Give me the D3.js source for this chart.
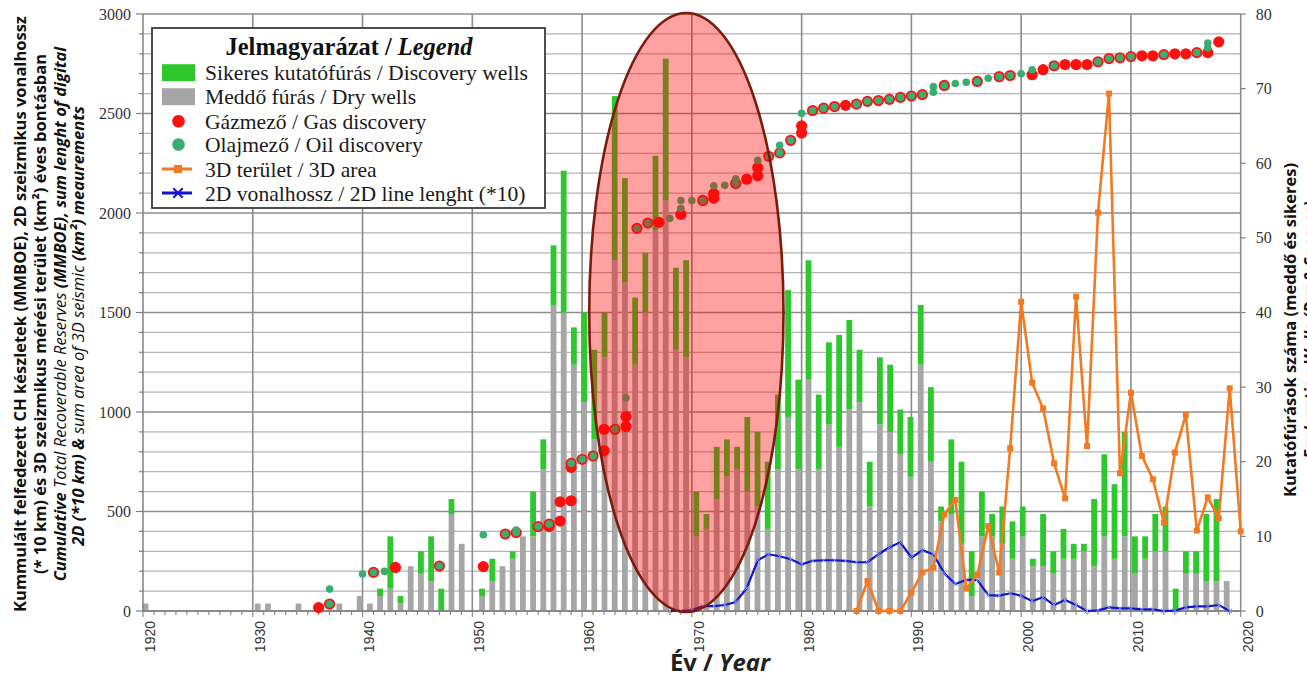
<!DOCTYPE html>
<html>
<head>
<meta charset="utf-8">
<script src="https://cdn.jsdelivr.net/npm/d3@7/dist/d3.min.js"></script>
<style>
  body { margin: 0; background: #fff; }
  svg { display: block; }
</style>
</head>
<body>
<svg id="chart" width="1307" height="677"></svg>
<script>
// exploration wells per bar slot (right axis), in the order they stand on the chart
let dryWells = [1,0,0,0,0,0,0,0,0,0,0,
  1,1,0,0,1,0,0,0,1,0,
  2,1,2,3,1,6,5,4,0,13,
  9,0,2,4,6,7,10,10,19,41,
  40,33,28,23,34,47,44,33,40,51,
  55,35,34,10,11,15,18,19,16,14,
  11,19,26,19,31,19,25,22,27,28,
  14,25,24,21,18,33,20,12,13,9,
  2,10,10,9,7,10,6,6,5,7,
  7,8,6,10,7,10,5,7,8,8,
  0,5,5,4,4,4];
let successWells = [0,0,0,0,0,0,0,0,0,0,0,
  0,0,0,0,0,0,0,0,0,0,
  0,0,1,7,1,0,3,6,3,2,
  0,0,1,3,0,1,0,6,4,8,
  19,5,12,12,6,22,14,9,8,10,
  19,11,13,6,2,7,5,3,10,10,
  9,10,17,12,16,10,11,15,12,7,
  6,9,9,6,8,8,10,2,10,11,
  6,6,3,5,5,4,1,7,3,4,
  2,1,9,11,10,14,5,3,5,6,
  3,3,3,9,11,0];

// cumulative recoverable reserves at each discovery [year, MMBOE]
let gasFinds = [[1936,17],[1937,35],[1941,194],[1943,219],[1947,226],[1951,223],[1953,387],[1954,394],
  [1956,424],[1957,424],[1957,437],[1958,452],[1958,549],[1959,554],[1959,722],[1959,742],[1960,762],
  [1961,779],[1962,805],[1962,913],[1963,913],[1964,927],[1964,977],[1965,1923],[1966,1949],[1967,1953],
  [1969,1993],[1971,2063],[1972,2075],[1972,2097],[1974,2148],[1975,2170],[1976,2187],[1976,2227],
  [1977,2285],[1978,2302],[1979,2365],[1980,2402],[1980,2438],[1981,2515],[1982,2527],[1983,2535],
  [1984,2541],[1985,2547],[1986,2561],[1987,2565],[1988,2571],[1989,2581],[1990,2588],[1991,2595],
  [1993,2641],[1996,2661],[1998,2685],[1999,2691],[2001,2695],[2002,2720],[2003,2740],[2004,2746],
  [2005,2746],[2006,2746],[2007,2760],[2008,2776],[2009,2780],[2010,2786],[2011,2790],[2012,2790],
  [2013,2796],[2014,2800],[2015,2800],[2016,2806],[2017,2806],[2018,2860]];
let oilFinds = [[1937,35],[1937,110],[1940,186],[1941,194],[1942,199],[1947,226],[1951,383],[1953,387],
  [1954,394],[1954,407],[1956,424],[1957,437],[1959,742],[1960,762],[1961,779],[1963,913],[1964,1070],
  [1965,1923],[1966,1949],[1968,1973],[1969,2023],[1969,2063],[1970,2063],[1971,2063],[1972,2137],
  [1973,2139],[1974,2148],[1974,2172],[1976,2265],[1977,2285],[1978,2302],[1978,2340],[1979,2365],
  [1980,2501],[1981,2515],[1982,2527],[1983,2535],[1985,2547],[1986,2561],[1987,2565],[1988,2571],
  [1989,2581],[1990,2588],[1991,2595],[1992,2607],[1992,2635],[1993,2641],[1994,2651],[1995,2657],
  [1996,2661],[1997,2677],[1998,2685],[1999,2691],[2000,2700],[2001,2720],[2003,2740],[2007,2760],
  [2008,2776],[2009,2780],[2010,2786],[2013,2796],[2016,2806],[2017,2830],[2017,2854]];

// seismic surveys (left axis)
let area3D = [[1985,0],[1986,151],[1987,0],[1988,0],[1989,0],[1990,92],[1991,194],[1992,218],[1993,486],
  [1994,558],[1995,114],[1996,181],[1997,427],[1998,193],[1999,818],[2000,1554],[2001,1147],[2002,1018],
  [2003,742],[2004,566],[2005,1580],[2006,829],[2007,2002],[2008,2600],[2009,692],[2010,1097],[2011,779],
  [2012,662],[2013,444],[2014,796],[2015,985],[2016,404],[2017,571],[2018,466],[2019,1119],[2020,400]];
let line2D = [[1968,0],[1969,0],[1970,5],[1971,25],[1972,25],[1973,30],[1974,45],[1975,115],[1976,255],
  [1977,285],[1978,275],[1979,260],[1980,235],[1981,252],[1982,255],[1983,255],[1984,252],[1985,245],
  [1986,245],[1987,285],[1988,320],[1989,345],[1990,268],[1991,305],[1992,286],[1993,189],[1994,136],
  [1995,156],[1996,156],[1997,80],[1998,77],[1999,89],[2000,77],[2001,50],[2002,69],[2003,30],[2004,55],
  [2005,30],[2006,0],[2007,3],[2008,18],[2009,13],[2010,13],[2011,8],[2012,8],[2013,0],[2014,2],
  [2015,18],[2016,23],[2017,23],[2018,30],[2019,0]];

let yearTicks = d3.range(1920, 2021, 10);
let leftTicks = d3.range(0, 3001, 500);
let rightTicks = d3.range(0, 81, 10);

let svg = d3.select("#chart"),
    width = +svg.attr("width"),
    height = +svg.attr("height"),
    margin = { top: 14, right: 66.3, bottom: 66, left: 143 };

let x0 = margin.left, x1 = width - margin.right;
let y0 = height - margin.bottom, y1 = margin.top;

let xYear = d3.scaleLinear().domain([1920, 2020]).range([x0, x1]);
let xSlot = d3.scaleBand().domain(d3.range(dryWells.length)).range([x0 - 2.6, x0 - 2.6 + dryWells.length * 10.2]);
let yLeft = d3.scaleLinear().domain([0, 3000]).range([y0, y1]);
let yRight = d3.scaleLinear().domain([0, 80]).range([y0, y1]);

const serif = "'Liberation Serif', 'Times New Roman', serif";
const sans = "'Liberation Sans', Arial, sans-serif";
const titleFont = "'Open Sans', 'DejaVu Sans', sans-serif";

// grid
let grid = svg.append("g");
grid.selectAll(".hg").data(d3.range(0, 3001, 100)).enter().append("line")
  .attr("x1", x0).attr("x2", x1)
  .attr("y1", d => yLeft(d)).attr("y2", d => yLeft(d))
  .attr("stroke", d => d % 500 === 0 ? "#8c8c8c" : "#b4b4b4")
  .attr("stroke-width", d => d % 500 === 0 ? 1.6 : 1.2);
grid.selectAll(".vg").data(yearTicks.slice(1)).enter().append("line")
  .attr("x1", d => xYear(d)).attr("x2", d => xYear(d))
  .attr("y1", y1).attr("y2", y0)
  .attr("stroke", "#8c8c8c").attr("stroke-width", 1.6);

// stacked well bars
let barW = 5.8;
let bars = svg.append("g");
dryWells.forEach((dry, i) => {
  let cx = xSlot(i) + xSlot.bandwidth() / 2;
  let ok = successWells[i];
  if (dry > 0) {
    bars.append("rect").attr("x", cx - barW / 2).attr("width", barW)
      .attr("y", yRight(dry)).attr("height", yRight(0) - yRight(dry)).attr("fill", "#a6a6a6");
  }
  if (ok > 0) {
    bars.append("rect").attr("x", cx - barW / 2).attr("width", barW)
      .attr("y", yRight(dry + ok)).attr("height", yRight(dry) - yRight(dry + ok)).attr("fill", "#2ec82e");
  }
});

// axes
let axes = svg.append("g").attr("stroke", "#808080");
axes.append("line").attr("x1", x0).attr("x2", x0).attr("y1", y1).attr("y2", y0).attr("stroke-width", 1.5);
axes.append("line").attr("x1", x0).attr("x2", x1).attr("y1", y0).attr("y2", y0).attr("stroke-width", 1.5);
axes.selectAll(".lt").data(d3.range(0, 3001, 100)).enter().append("line")
  .attr("x1", d => d % 500 === 0 ? x0 - 7 : x0 - 4).attr("x2", x0)
  .attr("y1", d => yLeft(d)).attr("y2", d => yLeft(d)).attr("stroke-width", 1.2);
axes.selectAll(".rt").data(rightTicks).enter().append("line")
  .attr("x1", x1).attr("x2", x1 + 5)
  .attr("y1", d => yRight(d)).attr("y2", d => yRight(d)).attr("stroke-width", 1.2);
axes.selectAll(".xt").data(d3.range(1920, 2021)).enter().append("line")
  .attr("x1", d => xYear(d)).attr("x2", d => xYear(d))
  .attr("y1", y0).attr("y2", d => d % 10 === 0 ? y0 + 6 : y0 + 4).attr("stroke-width", 1.1);

svg.selectAll(".ll").data(leftTicks).enter().append("text")
  .attr("x", x0 - 12).attr("y", d => yLeft(d)).attr("dy", "0.35em")
  .attr("text-anchor", "end").attr("font-family", serif).attr("font-size", 16).attr("fill", "#333")
  .text(d => d);
svg.selectAll(".rl").data(rightTicks).enter().append("text")
  .attr("x", x1 + 15).attr("y", d => yRight(d)).attr("dy", "0.35em")
  .attr("font-family", serif).attr("font-size", 16).attr("fill", "#333")
  .text(d => d);
svg.selectAll(".xl").data(yearTicks).enter().append("text")
  .attr("transform", d => `translate(${xYear(d) + 7},${y0 + 10}) rotate(-90)`)
  .attr("dy", "0.35em").attr("text-anchor", "end")
  .attr("font-family", sans).attr("font-size", 14).attr("fill", "#333")
  .text(d => d);

// seismic lines
let line = d3.line().x(d => xYear(d[0])).y(d => yLeft(d[1]));
svg.append("path").datum(line2D).attr("d", line)
  .attr("fill", "none").attr("stroke", "#1414cc").attr("stroke-width", 2.2);
svg.selectAll(".m2").data(line2D).enter().append("path")
  .attr("d", d3.symbol(d3.symbolTimes, 18)())
  .attr("transform", d => `translate(${xYear(d[0])},${yLeft(d[1])})`)
  .attr("fill", "none").attr("stroke", "#7f9de6").attr("stroke-width", 1);
svg.append("path").datum(area3D).attr("d", line)
  .attr("fill", "none").attr("stroke", "#f47a22").attr("stroke-width", 2.6);
svg.selectAll(".m3").data(area3D).enter().append("rect")
  .attr("x", d => xYear(d[0]) - 3).attr("y", d => yLeft(d[1]) - 3)
  .attr("width", 6).attr("height", 6).attr("fill", "#f47a22");

// discoveries: gas under, oil on top
svg.selectAll(".gas").data(gasFinds).enter().append("circle")
  .attr("cx", d => xYear(d[0])).attr("cy", d => yLeft(d[1])).attr("r", 5.6)
  .attr("fill", "#ff1010");
svg.selectAll(".oil").data(oilFinds).enter().append("circle")
  .attr("cx", d => xYear(d[0])).attr("cy", d => yLeft(d[1])).attr("r", 3.8)
  .attr("fill", "#3aae6e");

// highlighted period
svg.append("ellipse")
  .attr("cx", xYear(1969.5)).attr("cy", yLeft(1500))
  .attr("rx", xYear(1978.35) - xYear(1969.5)).attr("ry", (yLeft(0) - yLeft(3000)) / 2 + 1)
  .attr("fill", "rgba(255,0,0,0.37)").attr("stroke", "#7a1c0c").attr("stroke-width", 2.6);

function fitWidth(sel, target) {
  let w = sel.node().getComputedTextLength();
  let fs = parseFloat(sel.attr("font-size")) * target / w;
  sel.attr("font-size", fs);
  return fs;
}

// axis titles
let leftTitle = [
  [["Kummulált felfedezett CH készletek (MMBOE), 2D szeizmikus vonalhossz", "bold", "normal"]],
  [["(* 10 km) és 3D szeizmikus mérési terület (km²) éves bontásban", "bold", "normal"]],
  [["Cumulative ", "bold", "italic"], ["Total Recoverable Reserves ", "normal", "italic"], ["(MMBOE), sum lenght of digital", "bold", "italic"]],
  [["2D (*10 km) & ", "bold", "italic"], ["sum area of 3D seismic ", "normal", "italic"], ["(km²) meaurements", "bold", "italic"]]
];
let leftX = [20, 40, 60, 78];
let titleSize = 14;
leftTitle.forEach((parts, i) => {
  let t = svg.append("text")
    .attr("transform", `translate(${leftX[i]},${i === 3 ? 326 : 314}) rotate(-90)`)
    .attr("text-anchor", "middle").attr("dy", "0.35em")
    .attr("font-family", titleFont).attr("font-size", titleSize).attr("fill", "#111");
  parts.forEach(p => t.append("tspan").attr("font-weight", p[1]).attr("font-style", p[2]).text(p[0]));
  if (i === 0) titleSize = fitWidth(t, 596);
});

svg.append("text")
  .attr("transform", `translate(1290,330) rotate(-90)`)
  .attr("text-anchor", "middle").attr("dy", "0.35em")
  .attr("font-family", titleFont).attr("font-weight", "bold").attr("font-size", titleSize).attr("fill", "#111")
  .text("Kutatófúrások száma (meddő és sikeres)");
svg.append("text")
  .attr("transform", `translate(1310,330) rotate(-90)`)
  .attr("text-anchor", "middle").attr("dy", "0.35em")
  .attr("font-family", titleFont).attr("font-weight", "bold").attr("font-style", "italic")
  .attr("font-size", titleSize).attr("fill", "#111")
  .text("Exploration Wells (Dry & Success)");

let xt = svg.append("text").attr("x", 720).attr("y", 671).attr("text-anchor", "middle")
  .attr("font-family", titleFont).attr("font-weight", "bold").attr("font-size", 18).attr("fill", "#222");
xt.append("tspan").text("Év / ");
xt.append("tspan").attr("font-style", "italic").text("Year");
fitWidth(xt, 100);

// legend
let legend = svg.append("g");
legend.append("rect").attr("x", 152).attr("y", 28).attr("width", 393).attr("height", 180)
  .attr("fill", "#fff").attr("stroke", "#3a3a3a").attr("stroke-width", 1.8);
let lt = legend.append("text").attr("x", 349).attr("y", 46).attr("dy", "0.35em").attr("text-anchor", "middle")
  .attr("font-family", serif).attr("font-weight", "bold").attr("font-size", 20).attr("fill", "#111");
lt.append("tspan").text("Jelmagyarázat / ");
lt.append("tspan").attr("font-style", "italic").text("Legend");
fitWidth(lt, 247);

let legendItems = [
  { label: "Sikeres kutatófúrás / Discovery wells", kind: "rect", color: "#2ec82e" },
  { label: "Meddő fúrás / Dry wells", kind: "rect", color: "#a6a6a6" },
  { label: "Gázmező / Gas discovery", kind: "dot", color: "#ff1010" },
  { label: "Olajmező / Oil discovery", kind: "dot", color: "#3aae6e" },
  { label: "3D terület / 3D area", kind: "square", color: "#f47a22" },
  { label: "2D vonalhossz / 2D line lenght (*10)", kind: "cross", color: "#1414cc" }
];
let rowY = [72.7, 96.7, 121.2, 144.5, 169, 193];
let entrySize = 18;
legendItems.forEach((d, i) => {
  let cy = rowY[i];
  if (d.kind === "rect") {
    legend.append("rect").attr("x", 162).attr("y", cy - 8.5).attr("width", 33).attr("height", 17).attr("fill", d.color);
  } else if (d.kind === "dot") {
    legend.append("circle").attr("cx", 178.5).attr("cy", cy).attr("r", 6.3).attr("fill", d.color);
  } else {
    legend.append("line").attr("x1", 162).attr("x2", 192).attr("y1", cy).attr("y2", cy)
      .attr("stroke", d.color).attr("stroke-width", 3);
    if (d.kind === "square") {
      legend.append("rect").attr("x", 174).attr("y", cy - 4).attr("width", 8).attr("height", 8).attr("fill", d.color);
    } else {
      legend.append("path").attr("d", d3.symbol(d3.symbolTimes, 60)())
        .attr("transform", `translate(178,${cy})`).attr("fill", "none").attr("stroke", d.color).attr("stroke-width", 2);
    }
  }
  let t = legend.append("text").attr("x", 205).attr("y", cy).attr("dy", "0.35em")
    .attr("font-family", serif).attr("font-size", entrySize).attr("fill", "#1a1a1a").text(d.label);
  if (i === 0) entrySize = fitWidth(t, 323);
});
</script>
</body>
</html>
